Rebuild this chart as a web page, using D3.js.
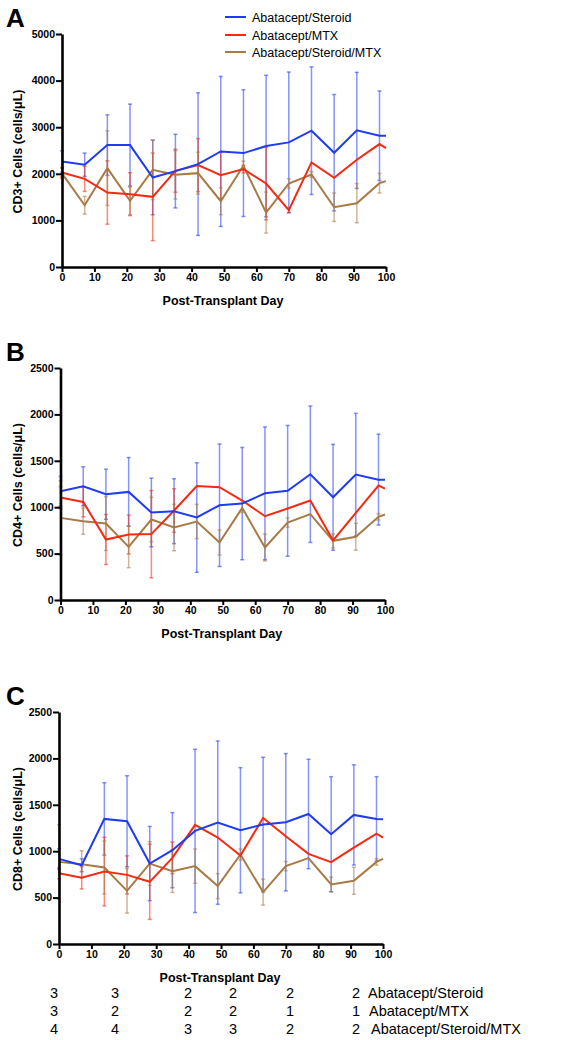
<!DOCTYPE html>
<html><head><meta charset="utf-8">
<script src="https://cdn.jsdelivr.net/npm/d3@7"></script>
<style>
html,body{margin:0;padding:0;background:#fff;}
svg{display:block;font-family:Arial,"Liberation Sans",sans-serif;}
</style></head>
<body>
<svg id="chart" width="573" height="1040"></svg>
<script>
// ---------------- DATA ----------------
const days = [0,7,14,21,28,35,42,49,56,63,70,77,84,91,98,100];
const seriesNames = ["Abatacept/Steroid","Abatacept/MTX","Abatacept/Steroid/MTX"];
const xTicks = [0,10,20,30,40,50,60,70,80,90,100];

// Panel A: CD3+
const cd3Steroid    = [2265,2195,2616,2616,1921,2057,2208,2480,2444,2595,2674,2925,2452,2932,2817,2817];
const cd3SteroidSD  = [230,250,650,880,800,790,1530,1610,1360,1520,1510,1370,1250,1245,960,0];
const cd3Mtx        = [2029,1892,1599,1563,1505,2065,2186,1971,2100,1792,1219,2244,1914,2301,2638,2552];
const cd3MtxSD      = [100,270,680,460,940,460,570,500,80,780,50,0,0,0,0,0];
const cd3Tri        = [2010,1326,2122,1419,2086,1978,2014,1412,2172,1168,1792,1986,1283,1369,1799,1842];
const cd3TriSD      = [110,190,800,300,640,520,450,290,100,440,100,60,305,420,210,0];
const cd3Ticks      = [0,1000,2000,3000,4000,5000];

// Panel B: CD4+
const cd4Steroid    = [1172,1226,1140,1165,943,957,889,1021,1039,1150,1176,1355,1107,1351,1297,1297];
const cd4SteroidSD  = [160,210,270,370,370,350,590,660,605,715,705,735,570,660,490,0];
const cd4Mtx        = [1104,1057,652,706,710,964,1229,1215,1072,903,986,1072,642,939,1233,1201];
const cd4MtxSD      = [120,160,270,210,470,235,0,0,0,0,0,0,0,0,0,0];
const cd4Tri        = [885,849,824,573,867,781,846,620,993,566,835,925,638,681,896,921];
const cd4TriSD      = [400,140,290,225,240,250,185,135,50,145,50,0,75,145,35,0];
const cd4Ticks      = [0,500,1000,1500,2000,2500];

// Panel C: CD8+
const cd8Steroid    = [917,849,1348,1323,867,1011,1219,1308,1226,1287,1312,1401,1183,1391,1348,1344];
const cd8SteroidSD  = [110,70,390,490,400,405,880,880,675,725,740,590,620,540,455,0];
const cd8Mtx        = [763,713,781,745,670,928,1283,1147,953,1358,1161,971,882,1039,1190,1147];
const cd8MtxSD      = [60,120,370,205,405,170,0,0,0,0,0,0,0,0,0,0];
const cd8Tri        = [885,860,824,573,867,785,839,624,964,559,839,925,642,681,885,917];
const cd8TriSD      = [400,145,285,240,235,230,185,135,60,140,50,0,80,145,35,0];
const cd8Ticks      = [0,500,1000,1500,2000,2500];

// Numbers at risk table
const nSteroid = [3,3,2,2,2,2];
const nMtx     = [3,2,2,2,1,1];
const nTri     = [4,4,3,3,2,2];

// ---------------- LAYOUT / STYLE ----------------
const colors = ["#1f3cf2","#f42a12","#a87a45"];
const panels = [
  {letter:"A", title:"CD3+ Cells (cells/\u03bcL)", yMax:5000, ticks:cd3Ticks,
   series:[[cd3Steroid,cd3SteroidSD],[cd3Mtx,cd3MtxSD],[cd3Tri,cd3TriSD]],
   x0:62, x1:386, yTop:34, yBot:267, letterY:27},
  {letter:"B", title:"CD4+ Cells (cells/\u03bcL)", yMax:2500, ticks:cd4Ticks,
   series:[[cd4Steroid,cd4SteroidSD],[cd4Mtx,cd4MtxSD],[cd4Tri,cd4TriSD]],
   x0:60.5, x1:385, yTop:368, yBot:600, letterY:361},
  {letter:"C", title:"CD8+ Cells (cells/\u03bcL)", yMax:2500, ticks:cd8Ticks,
   series:[[cd8Steroid,cd8SteroidSD],[cd8Mtx,cd8MtxSD],[cd8Tri,cd8TriSD]],
   x0:59, x1:383, yTop:712, yBot:944, letterY:705}
];
const tableColX = [54,115,188,233,290,356];
const tableRowY = [998,1016,1034];
const tableLabelX = [368,369,371];

const svg = d3.select("#chart");

panels.forEach(p => {
  const g = svg.append("g");
  const x = d3.scaleLinear().domain([0,100]).range([p.x0,p.x1]);
  const y = d3.scaleLinear().domain([0,p.yMax]).range([p.yBot,p.yTop]);

  // panel letter
  g.append("text").attr("x",6).attr("y",p.letterY)
    .attr("font-size",26).attr("font-weight","bold").text(p.letter);

  // error bars
  p.series.forEach((s,si) => {
    const [mean,sd] = s;
    const eg = g.append("g").attr("stroke",colors[si]).attr("stroke-opacity",0.55)
      .attr("stroke-width",1.5).attr("fill","none");
    days.forEach((d,i) => {
      if (!sd[i]) return;
      const cx = x(d), t = y(mean[i]+sd[i]), b = y(Math.max(0,mean[i]-sd[i]));
      eg.append("line").attr("x1",cx).attr("x2",cx).attr("y1",t).attr("y2",b);
      eg.append("line").attr("x1",cx-2).attr("x2",cx+2).attr("y1",t).attr("y2",t);
      eg.append("line").attr("x1",cx-2).attr("x2",cx+2).attr("y1",b).attr("y2",b);
    });
  });

  // lines
  const line = d3.line().x((d,i)=>x(days[i])).y(d=>y(d));
  [2,1,0].forEach(si => {
    g.append("path").datum(p.series[si][0])
      .attr("d",line).attr("fill","none").attr("stroke",colors[si])
      .attr("stroke-width",2).attr("stroke-linejoin","miter");
  });

  // axes
  const xAxis = d3.axisBottom(x).tickValues(xTicks).tickFormat(d3.format("d"))
    .tickSize(5).tickPadding(2).tickSizeOuter(0);
  const xg = g.append("g").attr("transform",`translate(0,${p.yBot})`).call(xAxis);
  const yAxis = d3.axisLeft(y).tickValues(p.ticks).tickFormat(d3.format("d"))
    .tickSize(6).tickPadding(1).tickSizeOuter(0);
  const yg = g.append("g").attr("transform",`translate(${p.x0},0)`).call(yAxis);
  [xg,yg].forEach(a => {
    a.select(".domain").attr("stroke","#000").attr("stroke-width",2.6);
    a.selectAll(".tick line").attr("stroke","#000").attr("stroke-width",2);
    a.selectAll(".tick text").attr("font-size",10.5).attr("font-weight","bold")
      .attr("fill","#000").attr("font-family","Arial, 'Liberation Sans', sans-serif");
  });

  // axis titles
  g.append("text").attr("x",(p.x0+p.x1)/2 - 1).attr("y",p.yBot+38)
    .attr("text-anchor","middle").attr("font-size",12.5).attr("font-weight","bold")
    .text("Post-Transplant Day");
  g.append("text")
    .attr("transform",`translate(22,${(p.yTop+p.yBot)/2 + 1}) rotate(-90)`)
    .attr("text-anchor","middle").attr("font-size",12.5).attr("font-weight","bold")
    .text(p.title);
});

// legend
const legY = [17,35,52];
seriesNames.forEach((n,i) => {
  svg.append("line").attr("x1",225).attr("x2",246).attr("y1",legY[i]).attr("y2",legY[i])
    .attr("stroke",colors[i]).attr("stroke-width",2);
  svg.append("text").attr("x",252).attr("y",legY[i]+4.5).attr("font-size",12.5).text(n);
});

// numbers table
[nSteroid,nMtx,nTri].forEach((row,ri) => {
  row.forEach((v,ci) => {
    svg.append("text").attr("x",tableColX[ci]).attr("y",tableRowY[ri])
      .attr("text-anchor","middle").attr("font-size",14.5).text(v);
  });
  svg.append("text").attr("x",tableLabelX[ri]).attr("y",tableRowY[ri])
    .attr("font-size",14.5).text(seriesNames[ri]);
});
</script>
</body></html>
